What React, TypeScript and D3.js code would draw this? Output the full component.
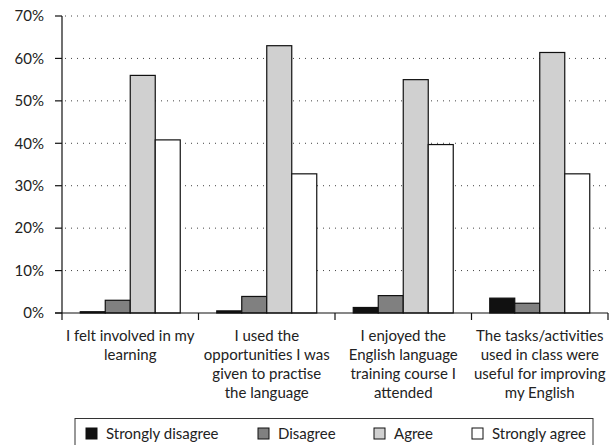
import React from "react";
import * as d3 from "d3";

const categories = [
  ["I felt involved in my", "learning"],
  ["I used the", "opportunities I was", "given to practise", "the language"],
  ["I enjoyed the", "English language", "training course I", "attended"],
  ["The tasks/activities", "used in class were", "useful for improving", "my English"],
];
const seriesNames = ["Strongly disagree", "Disagree", "Agree", "Strongly agree"];
const stronglyDisagree = [0.3, 0.5, 1.3, 3.5];
const disagree = [3.0, 3.9, 4.1, 2.3];
const agree = [56, 63, 55, 61.4];
const stronglyAgree = [40.8, 32.8, 39.7, 32.8];
const yTicks = [0, 10, 20, 30, 40, 50, 60, 70];

const colors = ["#111111", "#808080", "#d0d0d0", "#ffffff"];
const series = [stronglyDisagree, disagree, agree, stronglyAgree];

const W = 615;
const H = 445;
const left = 62;
const right = 608;
const top = 16;
const bottom = 313;
const font = "Lato, 'Open Sans', sans-serif";

export default function App() {
  const x0 = d3.scaleBand<number>().domain(d3.range(categories.length)).range([left, right]).padding(0);
  const x1 = d3
    .scaleBand<number>()
    .domain(d3.range(series.length))
    .range([0, x0.bandwidth()])
    .paddingInner(0)
    .paddingOuter(0.73);
  const y = d3.scaleLinear().domain([0, 70]).range([bottom, top]);

  const legendX = [86, 258, 374, 472];

  return (
    <svg
      width={W}
      height={H}
      style={{ position: "absolute", left: 0, top: 0, background: "#fff" }}
      fontFamily={font}
    >
      {/* gridlines */}
      {yTicks
        .filter((t) => t > 0)
        .map((t) => (
          <line
            key={"g" + t}
            x1={left + 3}
            x2={right}
            y1={y(t)}
            y2={y(t)}
            stroke="#444"
            strokeWidth={1}
            strokeDasharray="1,5"
          />
        ))}
      {/* bars */}
      {categories.map((_, ci) =>
        series.map((s, si) => (
          <rect
            key={ci + "-" + si}
            x={x0(ci)! + x1(si)!}
            y={y(s[ci])}
            width={x1.bandwidth()}
            height={bottom - y(s[ci])}
            fill={colors[si]}
            stroke="#111"
            strokeWidth={1.2}
          />
        ))
      )}
      {/* y axis */}
      <line x1={left} x2={left} y1={top} y2={bottom} stroke="#111" strokeWidth={1.2} />
      {yTicks.map((t) => (
        <g key={"t" + t}>
          <line x1={left - 7} x2={left} y1={y(t)} y2={y(t)} stroke="#111" strokeWidth={1.2} />
          <text
            x={44}
            y={y(t)}
            dy="0.35em"
            textAnchor="end"
            fontSize={15}
            fill="#222"
          >
            {t + "%"}
          </text>
        </g>
      ))}
      {/* x axis */}
      <line x1={left - 7} x2={right} y1={bottom} y2={bottom} stroke="#111" strokeWidth={1.2} />
      {d3.range(categories.length + 1).map((i) => {
        const xx = i < categories.length ? x0(i)! : right;
        return <line key={"xt" + i} x1={xx} x2={xx} y1={bottom} y2={bottom + 7} stroke="#111" strokeWidth={1.2} />;
      })}
      {categories.map((lines, ci) => (
        <text
          key={"c" + ci}
          x={x0(ci)! + x0.bandwidth() / 2}
          y={341}
          textAnchor="middle"
          fontSize={15}
          fill="#222"
        >
          {lines.map((l, li) => (
            <tspan key={li} x={x0(ci)! + x0.bandwidth() / 2} dy={li === 0 ? 0 : 19}>
              {l}
            </tspan>
          ))}
        </text>
      ))}
      {/* legend */}
      <rect x={75} y={418.5} width={518} height={30} fill="none" stroke="#333" strokeWidth={1} />
      {seriesNames.map((n, i) => (
        <g key={"l" + i}>
          <rect
            x={legendX[i]}
            y={428}
            width={11}
            height={11}
            fill={colors[i]}
            stroke="#111"
            strokeWidth={1}
          />
          <text x={legendX[i] + 20} y={438.5} fontSize={15} fill="#222">
            {n}
          </text>
        </g>
      ))}
    </svg>
  );
}
